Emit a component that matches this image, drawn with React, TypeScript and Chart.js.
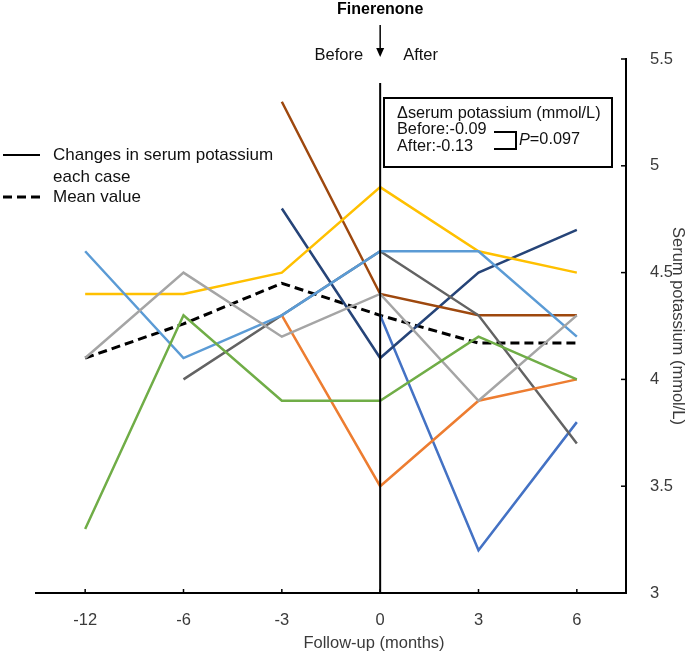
import React, { useEffect, useRef } from 'react';
import { Chart, registerables } from 'chart.js';

Chart.register(...registerables);

// ---- data ----
const months = ['-12', '-6', '-3', '0', '3', '6'];
const yMin = 3;
const yMax = 5.5;
const yStep = 0.5;

const caseYellow = [4.4, 4.4, 4.5, 4.9, 4.6, 4.5];
const caseLightBlue = [4.6, 4.1, 4.3, 4.6, 4.6, 4.2];
const caseLightGray = [4.1, 4.5, 4.2, 4.4, 3.9, 4.3];
const caseGreen = [3.3, 4.3, 3.9, 3.9, 4.2, 4.0];
const caseDarkGray = [null, 4.0, 4.3, 4.6, 4.3, 3.7];
const caseOrange = [null, null, 4.3, 3.5, 3.9, 4.0];
const caseBrown = [null, null, 5.3, 4.4, 4.3, 4.3];
const caseNavy = [null, null, 4.8, 4.1, 4.5, 4.7];
const caseBlue = [null, null, null, 4.3, 3.2, 3.8];
const meanValue = [4.1, 4.26, 4.45, 4.3, 4.17, 4.17];

const FONT = "'Liberation Sans', Arial, sans-serif";
const TEXT = '#3a3a3a';

const overlay = {
  id: 'overlay',
  afterDatasetsDraw(chart: any) {
    const ctx = chart.ctx as CanvasRenderingContext2D;
    const xs = chart.scales.x;
    const ys = chart.scales.y;
    const area = chart.chartArea;
    const x0 = xs.getPixelForValue(months.indexOf('0'));

    ctx.save();
    // vertical line at month 0
    ctx.strokeStyle = '#000';
    ctx.lineWidth = 2;
    ctx.beginPath();
    ctx.moveTo(x0, area.top + 24);
    ctx.lineTo(x0, area.bottom);
    ctx.stroke();

    // inward tick marks
    ctx.lineWidth = 1.5;
    xs.ticks.forEach((_: any, i: number) => {
      const px = xs.getPixelForTick(i);
      ctx.beginPath();
      ctx.moveTo(px, area.bottom);
      ctx.lineTo(px, area.bottom - 4);
      ctx.stroke();
    });
    ys.ticks.forEach((_: any, i: number) => {
      const py = ys.getPixelForTick(i);
      ctx.beginPath();
      ctx.moveTo(area.right, py);
      ctx.lineTo(area.right - 5, py);
      ctx.stroke();
    });

    // Finerenone header
    ctx.fillStyle = '#000';
    ctx.font = `bold 16px ${FONT}`;
    ctx.textAlign = 'center';
    ctx.textBaseline = 'middle';
    ctx.fillText('Finerenone', x0, 10);
    ctx.lineWidth = 1.5;
    ctx.beginPath();
    ctx.moveTo(x0, 25);
    ctx.lineTo(x0, 50);
    ctx.stroke();
    ctx.beginPath();
    ctx.moveTo(x0 - 4, 48);
    ctx.lineTo(x0 + 4, 48);
    ctx.lineTo(x0, 57);
    ctx.closePath();
    ctx.fill();

    ctx.font = `16.5px ${FONT}`;
    ctx.fillStyle = '#111';
    ctx.textAlign = 'right';
    ctx.fillText('Before', x0 - 17, 55);
    ctx.textAlign = 'left';
    ctx.fillText('After', x0 + 23, 55);

    // annotation box
    ctx.fillStyle = '#fff';
    ctx.fillRect(384, 98, 228, 69);
    ctx.strokeStyle = '#000';
    ctx.lineWidth = 2;
    ctx.strokeRect(384, 98, 228, 69);
    ctx.fillStyle = '#111';
    ctx.textAlign = 'left';
    ctx.font = `16.3px ${FONT}`;
    ctx.fillText('\u0394serum potassium (mmol/L)', 397, 114);
    ctx.fillText('Before:-0.09', 397, 130);
    ctx.fillText('After:-0.13', 397, 147);
    ctx.lineWidth = 2;
    ctx.beginPath();
    ctx.moveTo(494, 132);
    ctx.lineTo(516, 132);
    ctx.lineTo(516, 149);
    ctx.lineTo(494, 149);
    ctx.stroke();
    ctx.font = `italic 16.3px ${FONT}`;
    ctx.fillText('P', 519, 140);
    const pw = ctx.measureText('P').width;
    ctx.font = `16.3px ${FONT}`;
    ctx.fillText('=0.097', 519 + pw, 140);

    // legend
    ctx.strokeStyle = '#000';
    ctx.lineWidth = 2;
    ctx.setLineDash([]);
    ctx.beginPath();
    ctx.moveTo(3, 155);
    ctx.lineTo(40, 155);
    ctx.stroke();
    ctx.lineWidth = 3;
    ctx.setLineDash([9, 5]);
    ctx.beginPath();
    ctx.moveTo(3, 197);
    ctx.lineTo(40, 197);
    ctx.stroke();
    ctx.setLineDash([]);
    ctx.fillStyle = '#111';
    ctx.font = `17px ${FONT}`;
    ctx.fillText('Changes in serum potassium', 53, 155);
    ctx.fillText('each case', 53, 177);
    ctx.fillText('Mean value', 53, 197);

    // axis titles
    ctx.fillStyle = TEXT;
    ctx.textAlign = 'center';
    ctx.font = `16.5px ${FONT}`;
    ctx.fillText('Follow-up (months)', 374, 643);
    ctx.save();
    ctx.translate(678, (area.top + area.bottom) / 2);
    ctx.rotate(Math.PI / 2);
    ctx.fillText('Serum potassium (mmol/L)', 0, 0);
    ctx.restore();

    ctx.restore();
  },
};

function line(data: (number | null)[], color: string) {
  return {
    data,
    borderColor: color,
    backgroundColor: color,
    borderWidth: 2.5,
    pointRadius: 0,
    tension: 0,
    fill: false,
    spanGaps: false,
  };
}

export default function App() {
  const ref = useRef<HTMLCanvasElement | null>(null);

  useEffect(() => {
    if (!ref.current) return;
    const chart = new Chart(ref.current, {
      type: 'line',
      data: {
        labels: months,
        datasets: [
          line(caseGreen, '#70AD47'),
          line(caseLightGray, '#A5A5A5'),
          line(caseLightBlue, '#5B9BD5'),
          line(caseYellow, '#FFC000'),
          line(caseOrange, '#ED7D31'),
          line(caseDarkGray, '#636363'),
          line(caseBrown, '#9E480E'),
          line(caseNavy, '#264478'),
          line(caseBlue, '#4472C4'),
          {
            ...line(meanValue, '#000'),
            borderWidth: 3,
            borderDash: [9, 5],
          },
        ],
      },
      options: {
        animation: false,
        responsive: false,
        maintainAspectRatio: false,
        layout: { padding: { left: 36, top: 59, right: 0, bottom: 0 } },
        plugins: {
          legend: { display: false },
          tooltip: { enabled: false },
        },
        scales: {
          x: {
            type: 'category',
            offset: true,
            grid: { display: false },
            border: { display: true, color: '#000', width: 2 },
            ticks: { color: TEXT, font: { family: FONT, size: 16.5 }, padding: 10, maxRotation: 0 },
            afterFit: (s: any) => {
              s.height = 60;
            },
          },
          y: {
            position: 'right',
            min: yMin,
            max: yMax,
            grid: { display: false },
            border: { display: true, color: '#000', width: 2 },
            ticks: {
              stepSize: yStep,
              color: TEXT,
              font: { family: FONT, size: 16.5 },
              padding: 16,
              callback: (v: any) => String(Number(v)),
            },
            afterFit: (s: any) => {
              s.width = 62;
            },
          },
        },
      },
      plugins: [overlay],
    });
    return () => chart.destroy();
  }, []);

  return (
    <div style={{ position: 'fixed', left: 0, top: 0, width: 688, height: 653, background: '#fff' }}>
      <canvas ref={ref} width={688} height={653} style={{ width: 688, height: 653, display: 'block' }} />
    </div>
  );
}
